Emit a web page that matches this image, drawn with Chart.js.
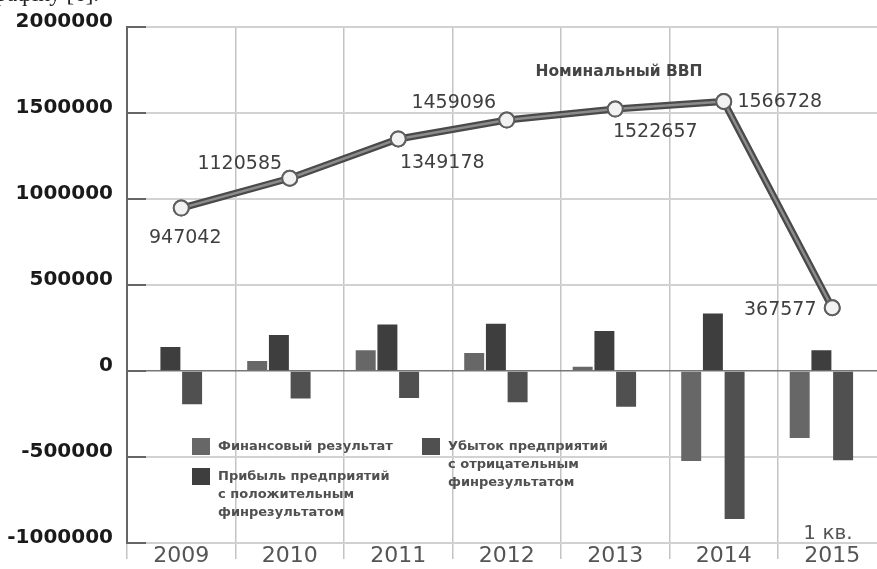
<!DOCTYPE html>
<html lang="ru">
<head>
  <meta charset="UTF-8">
  <title>Номинальный ВВП и финансовый результат предприятий</title>
  <script src="https://cdn.jsdelivr.net/npm/chart.js"></script>
  <style>
    body {
      margin: 0;
      background: #fff;
      overflow: hidden;
      font-family: 'DejaVu Sans', sans-serif;
    }
    .wrap {
      position: relative;
      width: 900px;
      height: 569px;
    }
    .note {
      position: absolute;
      white-space: nowrap;
      transform: translate(-50%, -50%);
    }
    .cut {
      position: absolute;
      left: -14px;
      top: -19px;
      font-family: 'Liberation Serif', serif;
      font-size: 23px;
      color: #222;
      white-space: nowrap;
    }
  </style>
</head>
<body>

<div class="wrap">
  <div class="cut">графіку [6].</div>
  <canvas id="chart" width="900" height="569"></canvas>
  <div class="note" style="left:619px;top:71px;font-weight:bold;font-size:15.5px;color:#444;">Номинальный ВВП</div>
  <div class="note" style="left:828px;top:532px;font-size:20px;color:#555;">1 кв.</div>
</div>

<script>
  const years = ['2009', '2010', '2011', '2012', '2013', '2014', '2015'];
  const gdp = [947042, 1120585, 1349178, 1459096, 1522657, 1566728, 367577];
  const finResult = [0, 58000, 120000, 105000, 25000, -523000, -390000];
  const profit = [140000, 209000, 271000, 275000, 233000, 334000, 120000];
  const loss = [-194000, -160000, -157000, -182000, -208000, -860000, -519000];

  const finLabel = ['Финансовый результат'];
  const profitLabel = ['Прибыль предприятий', 'с положительным', 'финрезультатом'];
  const lossLabel = ['Убыток предприятий', 'с отрицательным', 'финрезультатом'];

  // where each GDP value sits relative to its point
  const gdpLabelOffsets = [[4, 30], [-50, -14], [44, 24], [-53, -17], [40, 23], [56, 1], [-52, 2]];

  const legendItems = [
    { lines: finLabel, color: '#676767', x: 192, y: 438 },
    { lines: profitLabel, color: '#3e3e3e', x: 192, y: 468 },
    { lines: lossLabel, color: '#505050', x: 422, y: 438 }
  ];

  const decor = {
    id: 'decor',
    beforeDatasetsDraw(chart) {
      // short dark ticks inside the plot on the value axis
      const { ctx, chartArea, scales: { y } } = chart;
      ctx.save();
      ctx.strokeStyle = '#666';
      ctx.lineWidth = 2;
      y.ticks.forEach(t => {
        const py = y.getPixelForValue(t.value);
        ctx.beginPath();
        ctx.moveTo(chartArea.left, py);
        ctx.lineTo(chartArea.left + 19, py);
        ctx.stroke();
      });
      ctx.restore();
    },
    afterDatasetDraw(chart, args) {
      const meta = args.meta;
      if (meta.type !== 'line') return;
      const ctx = chart.ctx;
      const pts = meta.data;
      ctx.save();
      ctx.strokeStyle = '#8c8c8c';
      ctx.lineWidth = 2.5;
      ctx.lineJoin = 'round';
      ctx.beginPath();
      pts.forEach((p, i) => i ? ctx.lineTo(p.x, p.y) : ctx.moveTo(p.x, p.y));
      ctx.stroke();
      ctx.restore();
      pts.forEach(p => p.draw(ctx, chart.chartArea));

      ctx.save();
      ctx.font = '19px "DejaVu Sans"';
      ctx.fillStyle = '#3f3f3f';
      ctx.textAlign = 'center';
      ctx.textBaseline = 'middle';
      pts.forEach((p, i) => {
        const [dx, dy] = gdpLabelOffsets[i];
        ctx.fillText(String(gdp[i]), p.x + dx, p.y + dy);
      });
      ctx.restore();
    },
    afterDraw(chart) {
      const ctx = chart.ctx;
      ctx.save();
      ctx.font = 'bold 13px "DejaVu Sans"';
      ctx.textBaseline = 'middle';
      legendItems.forEach(item => {
        ctx.fillStyle = item.color;
        ctx.fillRect(item.x, item.y, 18, 17);
        ctx.fillStyle = '#505050';
        item.lines.forEach((line, k) => {
          ctx.fillText(line, item.x + 26, item.y + 9 + k * 18);
        });
      });
      ctx.restore();
    }
  };

  new Chart(document.getElementById('chart'), {
    data: {
      labels: years,
      datasets: [
        {
          type: 'line',
          label: 'Номинальный ВВП',
          data: gdp,
          order: 0,
          borderColor: '#4a4a4a',
          borderWidth: 7,
          pointRadius: 7.5,
          pointBorderWidth: 2,
          pointBorderColor: '#5e5e5e',
          pointBackgroundColor: '#f2f2f2',
          tension: 0
        },
        {
          type: 'bar',
          label: finLabel.join(' '),
          data: finResult,
          order: 1,
          backgroundColor: '#676767',
          barPercentage: 0.92,
          categoryPercentage: 0.8
        },
        {
          type: 'bar',
          label: profitLabel.join(' '),
          data: profit,
          order: 1,
          backgroundColor: '#3e3e3e',
          barPercentage: 0.92,
          categoryPercentage: 0.8
        },
        {
          type: 'bar',
          label: lossLabel.join(' '),
          data: loss,
          order: 1,
          backgroundColor: '#505050',
          barPercentage: 0.92,
          categoryPercentage: 0.8
        },
        {
          // empty slot: keeps each group of bars left of the year centre
          type: 'bar',
          label: '',
          data: years.map(() => null),
          order: 1,
          barPercentage: 0.92,
          categoryPercentage: 0.8
        }
      ]
    },
    options: {
      responsive: false,
      animation: false,
      layout: { padding: { top: 27, right: 13.5, left: 0, bottom: 0 } },
      plugins: {
        legend: { display: false },
        tooltip: { enabled: false }
      },
      scales: {
        x: {
          offset: true,
          afterFit(scale) { scale.height = 26; },
          grid: {
            offset: true,
            color: '#c4c4c4',
            lineWidth: 1.5,
            tickLength: 16,
            tickColor: '#c4c4c4'
          },
          border: { color: '#d0d0d0', width: 2 },
          ticks: {
            padding: -16,
            color: '#555',
            font: { family: 'DejaVu Sans', size: 22 }
          }
        },
        y: {
          min: -1000000,
          max: 2000000,
          afterFit(scale) { scale.width = 127; },
          grid: {
            drawTicks: false,
            color: ctx => ctx.tick && ctx.tick.value === 0 ? '#777' : '#d2d2d2',
            lineWidth: ctx => ctx.tick && ctx.tick.value === 0 ? 1.5 : 2
          },
          border: { color: '#666', width: 2 },
          ticks: {
            stepSize: 500000,
            padding: 14,
            labelOffset: -5,
            color: '#1a1a1a',
            font: { family: 'DejaVu Sans', size: 20, weight: 'bold' },
            callback: v => String(v)
          }
        }
      }
    },
    plugins: [decor]
  });
</script>

</body>
</html>
